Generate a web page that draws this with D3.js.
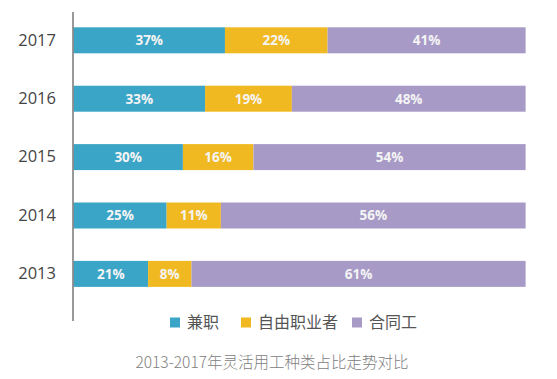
<!DOCTYPE html>
<html><head><meta charset="utf-8">
<script src="https://cdn.jsdelivr.net/npm/d3@7"></script>
<style>
html,body{margin:0;padding:0;background:#fff;}
svg{display:block;}
</style></head>
<body>
<svg id="chart" width="557" height="379"></svg>
<script>
// Categories (top to bottom)
const years = ["2017", "2016", "2015", "2014", "2013"];
// Labelled percentages
const partTime   = [37, 33, 30, 25, 21];   // 兼职
const freelance  = [22, 19, 16, 11, 8];    // 自由职业者
const contract   = [41, 48, 54, 56, 61];   // 合同工
// Segment lengths as drawn in the picture (share of bar, %)
const partTimeDrawn  = [33.5, 29.1, 24.2, 20.6, 16.5];
const freelanceDrawn = [22.7, 19.2, 15.6, 12.0, 9.6];
const contractDrawn  = [43.8, 51.7, 60.2, 67.4, 73.9];
const seriesNames = ["兼职", "自由职业者", "合同工"];
const colors = ["#3aa5c6", "#f1b921", "#a79ac7"];
const caption = "2013-2017年灵活用工种类占比走势对比";

const rows = years.map((y, i) => ({
  year: y,
  s0: partTimeDrawn[i], s1: freelanceDrawn[i], s2: contractDrawn[i],
  l0: partTime[i], l1: freelance[i], l2: contract[i]
}));

const svg = d3.select("#chart");
const left = 73.5, right = 525.6;

const x = d3.scaleLinear().domain([0, 100]).range([left, right]);
const y = d3.scaleBand().domain(years).range([9.8, 304.4]).paddingInner(0.555).paddingOuter(0.3);

const stack = d3.stack().keys(["s0", "s1", "s2"]);
const layers = stack(rows);

const g = svg.append("g");
layers.forEach((layer, k) => {
  const lg = g.append("g");
  lg.selectAll("rect").data(layer).enter().append("rect")
    .attr("x", d => x(d[0]))
    .attr("y", d => y(d.data.year))
    .attr("width", d => x(d[1]) - x(d[0]))
    .attr("height", y.bandwidth())
    .attr("fill", colors[k]);
  lg.selectAll("text").data(layer).enter().append("text")
    .attr("x", d => (x(d[0]) + x(d[1])) / 2)
    .attr("y", d => y(d.data.year) + y.bandwidth() / 2)
    .attr("dy", "0.36em")
    .attr("text-anchor", "middle")
    .attr("fill", "#f4f4f4")
    .attr("font-family", "'Open Sans', sans-serif")
    .attr("font-weight", "bold")
    .attr("font-size", 13.5)
    .text(d => d.data["l" + k] + "%");
});

// Y axis
const yAxis = d3.axisLeft(y).tickSize(0).tickPadding(17);
const ax = svg.append("g").attr("transform", `translate(${left - 0.5},0)`).call(yAxis);
ax.select(".domain").remove();
ax.selectAll("text")
  .attr("font-family", "'Open Sans', sans-serif")
  .attr("font-size", 16.5)
  .attr("fill", "#444");
svg.append("line")
  .attr("x1", left - 0.5).attr("x2", left - 0.5)
  .attr("y1", 12).attr("y2", 321)
  .attr("stroke", "#777").attr("stroke-width", 1.5);

// Legend
const legendX = [170, 241, 352];
const lg = svg.append("g");
seriesNames.forEach((n, k) => {
  lg.append("rect").attr("x", legendX[k]).attr("y", 317.5).attr("width", 10).attr("height", 10)
    .attr("fill", colors[k]);
  lg.append("text").attr("x", legendX[k] + 17).attr("y", 322.5).attr("dy", "0.36em")
    .attr("font-family", "'Noto Sans CJK SC', sans-serif")
    .attr("font-size", 16).attr("fill", "#555").text(n);
});

// Caption
svg.append("text").attr("x", 272).attr("y", 362).attr("dy", "0.36em")
  .attr("text-anchor", "middle")
  .attr("font-family", "'Noto Sans CJK SC', sans-serif")
  .attr("font-size", 15.5).attr("font-weight", 300).attr("fill", "#808080").text(caption);
</script>
</body></html>
